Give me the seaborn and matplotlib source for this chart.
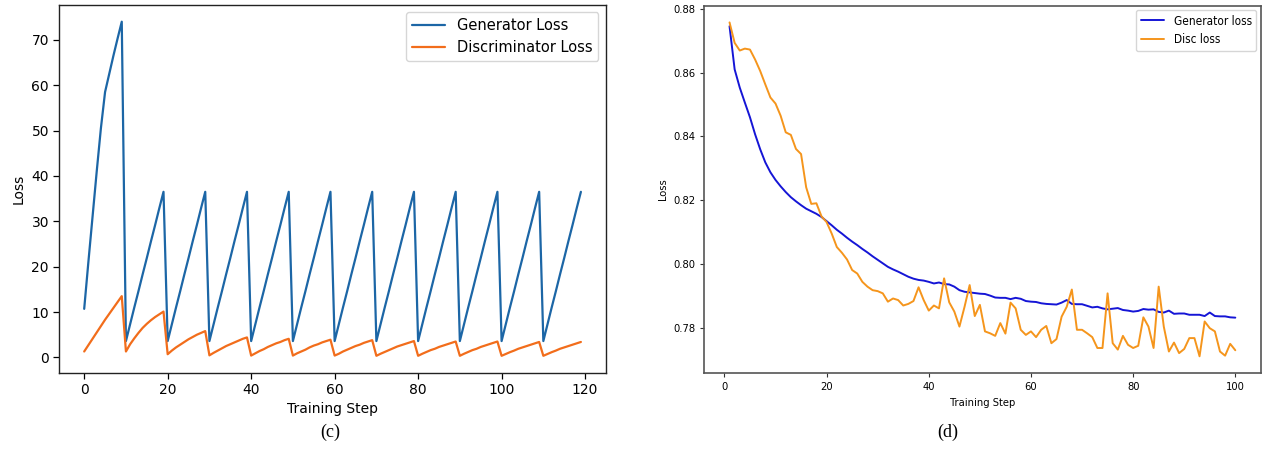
import numpy as np
import pandas as pd
import matplotlib
matplotlib.use("Agg")
import matplotlib.pyplot as plt
import seaborn as sns

# ---- panel (c): sawtooth GAN losses over 120 steps ----
steps_c = list(range(120))
gen_loss_c = [
    10.7, 21.0, 31.0, 41.0, 50.5, 58.5, 62.5, 66.5, 70.3, 74.0,
    3.6, 7.3, 11.0, 14.6, 18.3, 21.9, 25.6, 29.2, 32.9, 36.5,
    3.6, 7.3, 11.0, 14.6, 18.3, 21.9, 25.6, 29.2, 32.9, 36.5,
    3.6, 7.3, 11.0, 14.6, 18.3, 21.9, 25.6, 29.2, 32.9, 36.5,
    3.6, 7.3, 11.0, 14.6, 18.3, 21.9, 25.6, 29.2, 32.9, 36.5,
    3.6, 7.3, 11.0, 14.6, 18.3, 21.9, 25.6, 29.2, 32.9, 36.5,
    3.6, 7.3, 11.0, 14.6, 18.3, 21.9, 25.6, 29.2, 32.9, 36.5,
    3.6, 7.3, 11.0, 14.6, 18.3, 21.9, 25.6, 29.2, 32.9, 36.5,
    3.6, 7.3, 11.0, 14.6, 18.3, 21.9, 25.6, 29.2, 32.9, 36.5,
    3.6, 7.3, 11.0, 14.6, 18.3, 21.9, 25.6, 29.2, 32.9, 36.5,
    3.6, 7.3, 11.0, 14.6, 18.3, 21.9, 25.6, 29.2, 32.9, 36.5,
    3.6, 7.3, 11.0, 14.6, 18.3, 21.9, 25.6, 29.2, 32.9, 36.5,
]
disc_loss_c = [
    1.3, 2.7, 4.1, 5.5, 6.9, 8.3, 9.6, 10.9, 12.2, 13.5,
    1.3, 2.9, 4.2, 5.4, 6.5, 7.4, 8.2, 8.9, 9.5, 10.1,
    0.7, 1.5, 2.2, 2.8, 3.4, 4.0, 4.5, 5.0, 5.4, 5.8,
    0.45, 1.0, 1.5, 2.0, 2.5, 2.9, 3.3, 3.7, 4.1, 4.4,
    0.4, 0.9, 1.4, 1.8, 2.3, 2.7, 3.1, 3.4, 3.8, 4.1,
    0.4, 0.9, 1.3, 1.7, 2.2, 2.6, 2.9, 3.3, 3.6, 3.9,
    0.4, 0.8, 1.3, 1.7, 2.1, 2.5, 2.8, 3.2, 3.5, 3.8,
    0.35, 0.8, 1.2, 1.6, 2.0, 2.4, 2.7, 3.0, 3.3, 3.6,
    0.35, 0.8, 1.2, 1.6, 1.9, 2.3, 2.6, 2.9, 3.2, 3.5,
    0.35, 0.8, 1.2, 1.6, 1.9, 2.3, 2.6, 2.9, 3.2, 3.5,
    0.35, 0.75, 1.15, 1.5, 1.9, 2.2, 2.5, 2.8, 3.1, 3.4,
    0.35, 0.75, 1.15, 1.5, 1.9, 2.2, 2.5, 2.8, 3.1, 3.4,
]

# ---- panel (d): smoother losses over 100 steps ----
steps_d = list(range(1, 101))
gen_loss_d = [
    0.8745, 0.8610, 0.8553, 0.8506, 0.8460, 0.8407, 0.8360, 0.8319, 0.8288, 0.8264,
    0.8244, 0.8226, 0.8210, 0.8197, 0.8185, 0.8174, 0.8166, 0.8158, 0.8148, 0.8135,
    0.8122, 0.8108, 0.8096, 0.8083, 0.8071, 0.8060, 0.8048, 0.8037, 0.8025, 0.8014,
    0.8003, 0.7992, 0.7984, 0.7977, 0.7969, 0.7961, 0.7955, 0.7951, 0.7949, 0.7945,
    0.7940, 0.7943, 0.7938, 0.7937, 0.7930, 0.7919, 0.7914, 0.7912, 0.7910, 0.7908,
    0.7907, 0.7902, 0.7896, 0.7895, 0.7895, 0.7891, 0.7895, 0.7892, 0.7885, 0.7883,
    0.7882, 0.7878, 0.7876, 0.7875, 0.7874, 0.7880, 0.7888, 0.7876, 0.7875, 0.7875,
    0.7870, 0.7865, 0.7867, 0.7862, 0.7859, 0.7861, 0.7863, 0.7857, 0.7855, 0.7852,
    0.7854, 0.7860, 0.7858, 0.7859, 0.7851, 0.7849, 0.7855, 0.7845, 0.7846, 0.7846,
    0.7842, 0.7842, 0.7842, 0.7838, 0.7849, 0.7838, 0.7837, 0.7837, 0.7834, 0.7833,
]
disc_loss_d = [
    0.8757, 0.8693, 0.8669, 0.8675, 0.8672, 0.8641, 0.8605, 0.8563, 0.8522, 0.8503,
    0.8465, 0.8413, 0.8405, 0.8361, 0.8345, 0.8241, 0.8189, 0.8191, 0.8150, 0.8132,
    0.8096, 0.8054, 0.8036, 0.8015, 0.7982, 0.7971, 0.7945, 0.7930, 0.7919, 0.7916,
    0.7909, 0.7883, 0.7893, 0.7888, 0.7871, 0.7876, 0.7885, 0.7928, 0.7888, 0.7855,
    0.7871, 0.7862, 0.7956, 0.7881, 0.7852, 0.7805, 0.7867, 0.7935, 0.7838, 0.7873,
    0.7790, 0.7784, 0.7776, 0.7816, 0.7783, 0.7880, 0.7862, 0.7795, 0.7779, 0.7790,
    0.7772, 0.7795, 0.7807, 0.7753, 0.7766, 0.7836, 0.7867, 0.7921, 0.7795, 0.7795,
    0.7784, 0.7772, 0.7738, 0.7738, 0.7909, 0.7753, 0.7733, 0.7776, 0.7748, 0.7738,
    0.7745, 0.7834, 0.7805, 0.7738, 0.7930, 0.7805, 0.7727, 0.7755, 0.7722, 0.7735,
    0.7769, 0.7769, 0.7712, 0.7821, 0.7800, 0.7790, 0.7727, 0.7714, 0.7751, 0.7731,
]

sns.set_theme(style="ticks")
plt.rcParams["font.family"] = ["DejaVu Sans"]
plt.rcParams["axes.edgecolor"] = "black"
plt.rcParams["xtick.color"] = "black"
plt.rcParams["ytick.color"] = "black"
plt.rcParams["axes.labelcolor"] = "black"
plt.rcParams["text.color"] = "black"

fig = plt.figure(figsize=(12.63, 4.5), dpi=100)

# left panel
ax1 = fig.add_axes([0.0470, 0.1722, 0.4326, 0.8167])
df_c = pd.DataFrame({"step": steps_c, "gen": gen_loss_c, "disc": disc_loss_c})
sns.lineplot(data=df_c, x="step", y="gen", ax=ax1, color="#1c66a6",
             linewidth=1.6, label="Generator Loss")
sns.lineplot(data=df_c, x="step", y="disc", ax=ax1, color="#f26d1b",
             linewidth=1.6, label="Discriminator Loss")
ax1.set_xticks([0, 20, 40, 60, 80, 100, 120])
ax1.set_yticks([0, 10, 20, 30, 40, 50, 60, 70])
ax1.tick_params(labelsize=10, length=4, width=0.9, color="black")
ax1.set_xlabel("Training Step", fontsize=10)
ax1.set_ylabel("Loss", fontsize=10)
for s in ax1.spines.values():
    s.set_linewidth(1.0)
    s.set_color("#222222")
ax1.legend(loc="upper right", fontsize=10.5, handlelength=2.3, frameon=True)

# right panel
small = dict(fontsize=8, fontstretch="condensed")
ax2 = fig.add_axes([0.5576, 0.1711, 0.4405, 0.8162])
df_d = pd.DataFrame({"step": steps_d, "gen": gen_loss_d, "disc": disc_loss_d})
sns.lineplot(data=df_d, x="step", y="gen", ax=ax2, color="#1515d6",
             linewidth=1.4, label="Generator loss")
sns.lineplot(data=df_d, x="step", y="disc", ax=ax2, color="#f5951c",
             linewidth=1.4, label="Disc loss")
ax2.set_xticks([0, 20, 40, 60, 80, 100])
ax2.set_yticks([0.78, 0.80, 0.82, 0.84, 0.86, 0.88])
ax2.set_yticklabels(["0.78", "0.80", "0.82", "0.84", "0.86", "0.88"])
ax2.tick_params(labelsize=8, length=3, width=0.8, color="#333333")
for lab in ax2.get_xticklabels() + ax2.get_yticklabels():
    lab.set_fontstretch("condensed")
ax2.set_xlabel("Training Step", **small)
ax2.set_ylabel("Loss", **small)
for s in ax2.spines.values():
    s.set_linewidth(1.2)
    s.set_color("#555555")
ax2.legend(loc="upper right", prop={"size": 8.5, "stretch": "condensed"},
           borderaxespad=0.35, frameon=True)

# panel captions
fig.text(330 / 1263, 1 - 432 / 450, "(c)", ha="center", va="center",
         fontsize=13, family="Liberation Serif")
fig.text(948 / 1263, 1 - 432 / 450, "(d)", ha="center", va="center",
         fontsize=13, family="Liberation Serif")

fig.savefig("out.png", dpi=100, facecolor="white")
